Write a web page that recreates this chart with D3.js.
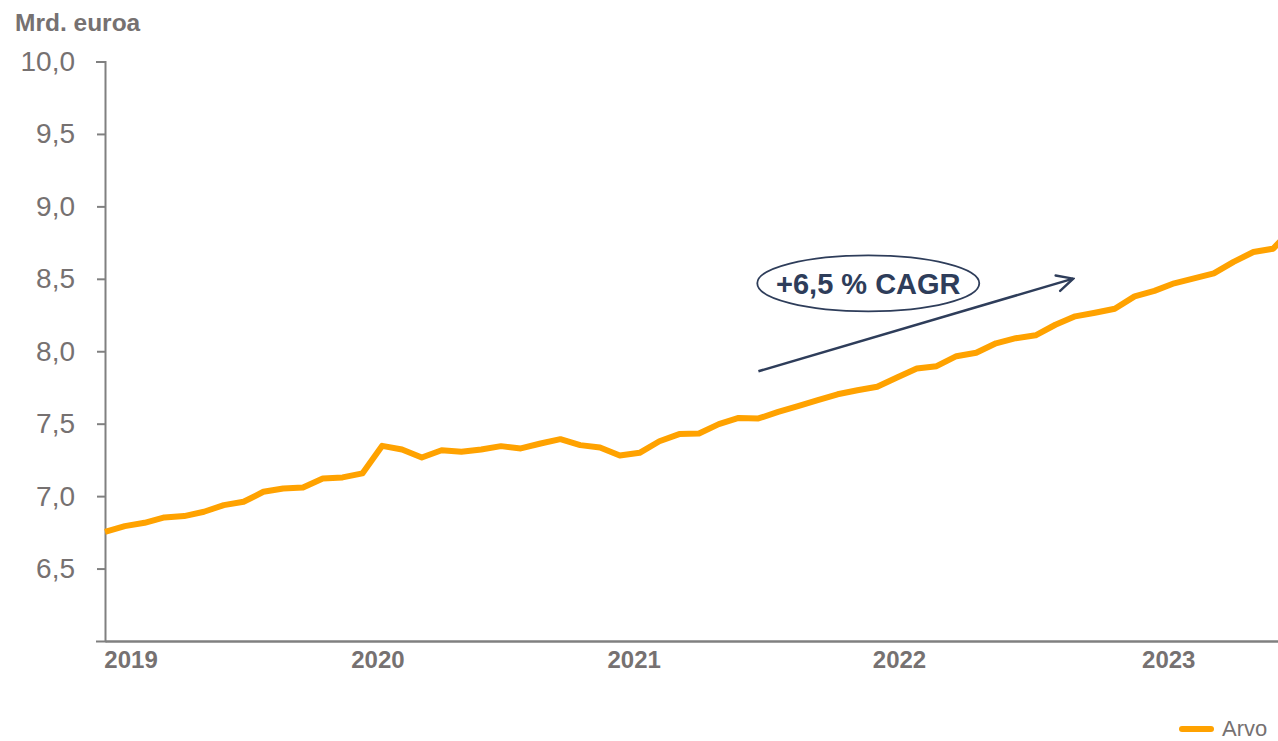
<!DOCTYPE html>
<html>
<head>
<meta charset="utf-8">
<script src="https://cdn.jsdelivr.net/npm/d3@7"></script>
<style>
  body { margin: 0; background: #fff; }
  svg { display: block; font-family: "Liberation Sans", Arial, sans-serif; }
</style>
</head>
<body>
<script>
// monthly value, mrd. euroa (index = point number from the start of 2019)
var arvo = [6.754, 6.793, 6.816, 6.853, 6.862, 6.892, 6.938, 6.961, 7.030, 7.053,
            7.060, 7.122, 7.129, 7.157, 7.347, 7.322, 7.267, 7.317, 7.306, 7.322,
            7.345, 7.329, 7.363, 7.393, 7.352, 7.336, 7.281, 7.299, 7.379, 7.428,
            7.432, 7.497, 7.540, 7.536, 7.581, 7.621, 7.662, 7.703, 7.731, 7.755,
            7.819, 7.881, 7.897, 7.966, 7.990, 8.055, 8.090, 8.110, 8.183, 8.241,
            8.266, 8.293, 8.379, 8.417, 8.469, 8.503, 8.538, 8.617, 8.685, 8.708,
            8.850];
var yearLabels = ["2019", "2020", "2021", "2022", "2023"];
var yearPos = [1.29, 13.76, 26.7, 40.1, 53.7];   // where the labels sit, in point units
var yTicks = [6.5, 7.0, 7.5, 8.0, 8.5, 9.0, 9.5, 10.0];
var cagrText = "+6,5 % CAGR";
var arrowFrom = [33.0, 7.862];
var arrowTo = [48.9, 8.501];
var bubbleAt = [38.55, 8.469];

var w = 1278, h = 741;
var grey = "#767171", axisGrey = "#808080", orange = "#FFA200", navy = "#2E3D5A";

var svg = d3.select("body").append("svg")
    .attr("width", w)
    .attr("height", h);

var x = d3.scaleLinear().domain([0, 60]).range([105, 105 + 19.8 * 60]);
var y = d3.scaleLinear().domain([6, 10]).range([641, 61.5]);

/* y axis */
var yAxis = svg.append("g")
    .attr("transform", "translate(105,0)")
    .call(d3.axisLeft(y)
        .tickValues(yTicks)
        .tickSize(8)
        .tickSizeOuter(9)
        .tickPadding(22)
        .tickFormat(d => d3.format(".1f")(d).replace(".", ",")));
yAxis.select(".domain").attr("stroke", axisGrey).attr("stroke-width", 2);
yAxis.selectAll(".tick line").attr("stroke", axisGrey).attr("stroke-width", 2);
yAxis.selectAll(".tick text")
    .attr("fill", grey)
    .attr("font-size", 28)
    .attr("font-family", "Liberation Sans, Arial, sans-serif");

/* x axis */
var xAxis = svg.append("g")
    .attr("transform", "translate(0,641)")
    .call(d3.axisBottom(x)
        .tickValues(yearPos)
        .tickSize(0)
        .tickSizeOuter(0)
        .tickPadding(10)
        .tickFormat((d, i) => yearLabels[i]));
xAxis.select(".domain").attr("stroke", axisGrey).attr("stroke-width", 2.5);
xAxis.selectAll(".tick text")
    .attr("fill", grey)
    .attr("font-size", 24)
    .attr("font-weight", "bold")
    .attr("font-family", "Liberation Sans, Arial, sans-serif");

/* unit title */
svg.append("text")
    .attr("x", 15)
    .attr("y", 30.5)
    .text("Mrd. euroa")
    .attr("font-size", 24.5)
    .attr("font-weight", "bold")
    .attr("fill", grey);

/* the line */
var line = d3.line()
    .x((d, i) => x(i))
    .y(d => y(d));

svg.append("path")
    .datum(arvo)
    .attr("d", line)
    .attr("fill", "none")
    .attr("stroke", orange)
    .attr("stroke-width", 6)
    .attr("stroke-linejoin", "round");

/* CAGR arrow and bubble */
svg.append("defs").append("marker")
    .attr("id", "head")
    .attr("viewBox", "0 0 10 10")
    .attr("refX", 9)
    .attr("refY", 5)
    .attr("markerWidth", 8)
    .attr("markerHeight", 8)
    .attr("markerUnits", "strokeWidth")
    .attr("orient", "auto")
    .append("path")
    .attr("d", "M1,1 L9,5 L1,9")
    .attr("fill", "none")
    .attr("stroke", navy)
    .attr("stroke-width", 1.2)
    .attr("stroke-linecap", "round");

svg.append("line")
    .attr("x1", x(arrowFrom[0]))
    .attr("y1", y(arrowFrom[1]))
    .attr("x2", x(arrowTo[0]))
    .attr("y2", y(arrowTo[1]))
    .attr("stroke", navy)
    .attr("stroke-width", 2.5)
    .attr("marker-end", "url(#head)");

svg.append("ellipse")
    .attr("cx", x(bubbleAt[0]))
    .attr("cy", y(bubbleAt[1]))
    .attr("rx", 111)
    .attr("ry", 28)
    .attr("fill", "#fff")
    .attr("stroke", navy)
    .attr("stroke-width", 1.8);

svg.append("text")
    .attr("x", x(bubbleAt[0]))
    .attr("y", y(bubbleAt[1]) + 11)
    .attr("text-anchor", "middle")
    .text(cagrText)
    .attr("font-size", 29)
    .attr("font-weight", "bold")
    .attr("fill", navy);

/* legend */
svg.append("line")
    .attr("x1", 1182)
    .attr("x2", 1211)
    .attr("y1", 729)
    .attr("y2", 729)
    .attr("stroke", orange)
    .attr("stroke-width", 6)
    .attr("stroke-linecap", "round");

svg.append("text")
    .attr("x", 1222)
    .attr("y", 736)
    .text("Arvo")
    .attr("font-size", 22)
    .attr("fill", grey);
</script>
</body>
</html>
